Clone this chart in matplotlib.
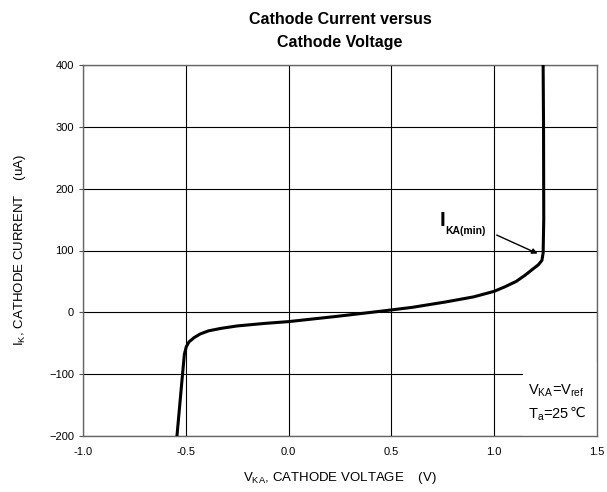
import matplotlib.pyplot as plt
from matplotlib.patches import Rectangle

plt.rcParams['font.family'] = ['Liberation Sans', 'DejaVu Sans']

# cathode voltage (V) and cathode current (uA)
v_ka = [-0.543, -0.52, -0.507, -0.498, -0.485, -0.46, -0.43, -0.39, -0.33, -0.25, -0.12, 0.0,
        0.235, 0.443, 0.6, 0.764, 0.9, 1.0, 1.05, 1.107, 1.15, 1.188, 1.215, 1.232, 1.238,
        1.241, 1.240, 1.238]
i_k = [-200, -115, -68, -56, -48, -41, -35, -30, -26, -22, -18, -15,
       -6.5, 1.6, 8, 16.8, 25, 34, 41, 50, 60, 70, 77, 84, 96,
       150, 300, 400]

xticks = [-1.0, -0.5, 0.0, 0.5, 1.0, 1.5]
yticks = [-200, -100, 0, 100, 200, 300, 400]

fig = plt.figure(figsize=(6.07, 4.92), dpi=100)
ax = fig.add_axes([83 / 607, 56 / 492, 514 / 607, 371 / 492])

ax.set_xlim(-1.0, 1.5)
ax.set_ylim(-200, 400)
ax.set_xticks(xticks)
ax.set_yticks(yticks)
ax.set_xticklabels([f"{t:.1f}" for t in xticks])
ax.tick_params(labelsize=8, length=3, width=0.8, color='#555555', direction='out')
ax.tick_params(axis='x', length=0, pad=8)
ax.grid(True, color='black', linewidth=0.8)
ax.set_axisbelow(True)
for s in ax.spines.values():
    s.set_color('#666666')
    s.set_linewidth(1.0)

# white box behind the condition text
ax.add_patch(Rectangle((0.856, 0.0), 0.144, 0.2, transform=ax.transAxes,
                       facecolor='white', edgecolor='none', zorder=1))

ax.plot(v_ka, i_k, color='black', linewidth=2.2, zorder=3)

ax.annotate('', xy=(1.211, 95), xytext=(1.012, 125),
            arrowprops=dict(arrowstyle='-|>', color='black', lw=1.0,
                            mutation_scale=8, shrinkA=0, shrinkB=0), zorder=4)
ax.text(0.736, 148, 'I', fontsize=15, fontweight='bold', ha='left', va='center')
ax.text(0.761, 131, 'KA(min)', fontsize=7.5, fontweight='bold', ha='left', va='center')

ax.text(1.164, -126, r'V$_{\mathregular{KA}}$=V$_{\mathregular{ref}}$', fontsize=10.5,
        ha='left', va='center', zorder=4)
t = ax.text(1.164, -166, r'T$_{\mathregular{a}}$=25', fontsize=10.5,
            ha='left', va='center', zorder=4)
ax.annotate('℃', xy=(1, 0.62), xycoords=t, fontsize=10, family='DejaVu Sans',
            ha='left', va='center', zorder=4)

fig.text(340 / 607, 1 - 31 / 492, 'Cathode Current versus\nCathode Voltage',
         fontsize=11.5, fontweight='bold', ha='center', va='center', linespacing=1.6)
ax.set_xlabel(r'V$_{\mathregular{KA}}$, CATHODE VOLTAGE    (V)', fontsize=9.5, labelpad=9)
ax.set_ylabel(r'I$_{\mathregular{K}}$, CATHODE CURRENT    (uA)', fontsize=9.5, labelpad=15)

fig.savefig('out.png', dpi=100)
